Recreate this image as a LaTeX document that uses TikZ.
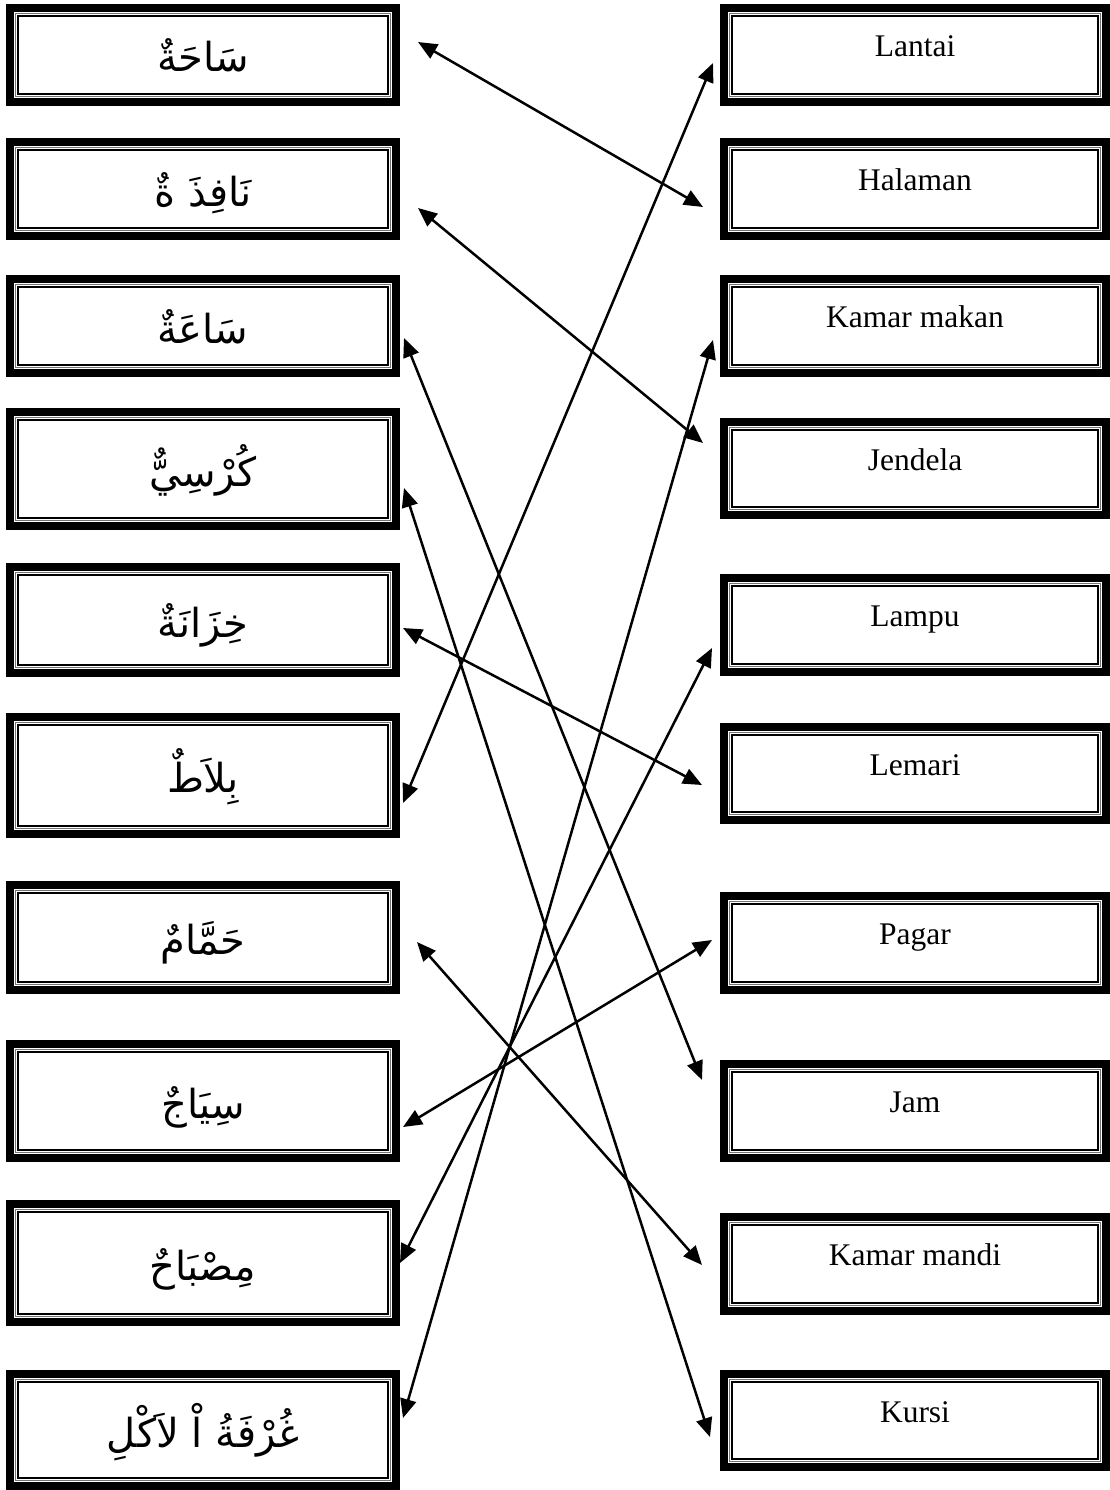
\documentclass[tikz,border=0pt]{standalone}
\usepackage{fontspec}
\setmainfont{Liberation Serif}
\newfontfamily\arabicfont[Script=Arabic]{DejaVu Sans}
\TeXXeTstate=1
\usetikzlibrary{arrows.meta}
\newcommand\artxt[1]{{\arabicfont\fontsize{40}{44}\selectfont\beginR #1\endR}}
\begin{document}
\begin{tikzpicture}[x=1pt,y=-1pt,
  framebox/.style={draw, line width=8pt, inner sep=0pt, outer sep=0pt, fill=white},
  lbox/.style={framebox, minimum width=386pt, font=\fontsize{40}{44}\selectfont, text height=40pt, text depth=6pt},
  rbox/.style={framebox, minimum width=382pt, font=\fontsize{31.5}{34}\selectfont, text height=13pt, text depth=10pt},
  conn/.style={line width=2.5pt, {Triangle[length=19pt,width=16pt]}-{Triangle[length=19pt,width=16pt]}}]
\useasboundingbox (0,0) rectangle (1110,1490);
% left column
\node[lbox, minimum height=94pt]  (L1)  at (203,55)    {\artxt{سَاحَةٌ}};
\node[lbox, minimum height=94pt]  (L2)  at (203,189)   {\artxt{نَافِذَ ةٌ}};
\node[lbox, minimum height=94pt]  (L3)  at (203,326)   {\artxt{سَاعَةٌ}};
\node[lbox, minimum height=114pt] (L4)  at (203,469)   {\artxt{كُرْسِيٌّ}};
\node[lbox, minimum height=106pt] (L5)  at (203,620)   {\artxt{خِزَانَةٌ}};
\node[lbox, minimum height=117pt] (L6)  at (203,775.5) {\artxt{بِلاَطٌ}};
\node[lbox, minimum height=105pt] (L7)  at (203,937.5) {\artxt{حَمَّامٌ}};
\node[lbox, minimum height=114pt] (L8)  at (203,1101)  {\artxt{سِيَاجٌ}};
\node[lbox, minimum height=118pt] (L9)  at (203,1263)  {\artxt{مِصْبَاحٌ}};
\node[lbox, minimum height=112pt] (L10) at (203,1430)  {\artxt{غُرْفَةُ اْ لاَكْلِ}};
% right column
\node[rbox, minimum height=94pt] (R1)  at (915,55)     {Lantai};
\node[rbox, minimum height=94pt] (R2)  at (915,189)    {Halaman};
\node[rbox, minimum height=94pt] (R3)  at (915,326)    {Kamar makan};
\node[rbox, minimum height=93pt] (R4)  at (915,468.5)  {Jendela};
\node[rbox, minimum height=94pt] (R5)  at (915,625)    {Lampu};
\node[rbox, minimum height=93pt] (R6)  at (915,773.5)  {Lemari};
\node[rbox, minimum height=94pt] (R7)  at (915,943)    {Pagar};
\node[rbox, minimum height=94pt] (R8)  at (915,1111)   {Jam};
\node[rbox, minimum height=94pt] (R9)  at (915,1264)   {Kamar mandi};
\node[rbox, minimum height=93pt] (R10) at (915,1420.5) {Kursi};
% inner thin frames
\foreach \n in {L1,L2,L3,L4,L5,L6,L7,L8,L9,L10,R1,R2,R3,R4,R5,R6,R7,R8,R9,R10}{
  \draw[line width=0.8pt, black!55] ([shift={(5.8,5.8)}]\n.north west) rectangle ([shift={(-5.8,-5.8)}]\n.south east);
  \draw[line width=1.3pt] ([shift={(8,8)}]\n.north west) rectangle ([shift={(-8,-8)}]\n.south east);
}
% connector ends
\coordinate (a1) at (418,42);   \coordinate (b1) at (703,207);
\coordinate (a2) at (418,208);  \coordinate (b2) at (703,443);
\coordinate (a3) at (404,338);  \coordinate (b3) at (702,1080);
\coordinate (a4) at (404,488);  \coordinate (b4) at (710,1437);
\coordinate (a5) at (403,628);  \coordinate (b5) at (702,785);
\coordinate (a6) at (403,803);  \coordinate (b6) at (713,63);
\coordinate (a7) at (417,942);  \coordinate (b7) at (702,1265);
\coordinate (a8) at (403,1127); \coordinate (b8) at (712,940);
\coordinate (a9) at (400,1263); \coordinate (b9) at (712,648);
\coordinate (a10) at (403,1418); \coordinate (b10) at (713,340);
\foreach \i in {1,...,10}{ \draw[conn] (a\i) -- (b\i); }
\end{tikzpicture}
\end{document}
